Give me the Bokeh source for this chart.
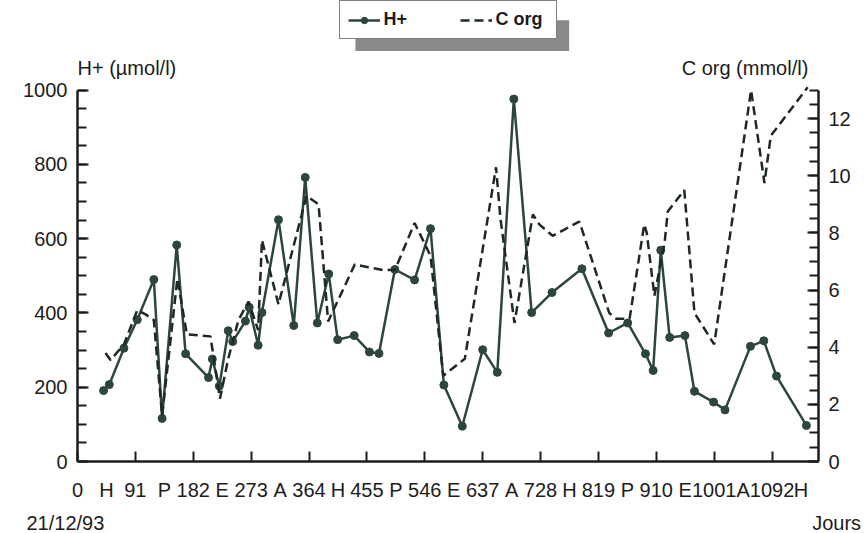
from bokeh.plotting import figure
from bokeh.models import (Range1d, LinearAxis, FixedTicker, SingleIntervalTicker,
                          Legend, LegendItem, Label, BoxAnnotation, ColumnDataSource)
from bokeh.embed import file_html
from bokeh.resources import INLINE

# ---- data (days since 21/12/93) ----
h_days = [41, 50, 73, 94, 120, 133, 156, 170, 206, 212, 223, 237, 244, 264, 270,
          284, 290, 316, 340, 358, 377, 395, 409, 435, 459, 474, 499, 530, 555,
          576, 605, 637, 660, 686, 714, 746, 793, 835, 865, 893, 905, 917, 931,
          955, 970, 1000, 1018, 1058, 1079, 1099, 1146]
h_values = [191, 207, 305, 382, 490, 116, 583, 290, 226, 276, 203, 352, 323, 378, 415,
            313, 401, 651, 366, 765, 373, 505, 328, 339, 295, 291, 517, 489, 627,
            206, 95, 301, 240, 976, 401, 455, 519, 346, 373, 290, 245, 569, 334,
            339, 189, 160, 139, 310, 325, 230, 97]

c_days = [44, 52, 73, 94, 107, 120, 133, 157, 172, 209, 224, 237, 253, 269, 284,
          290, 316, 352, 360, 379, 394, 436, 457, 481, 499, 530, 555, 575, 609,
          658, 665, 687, 716, 726, 747, 789, 836, 847, 868, 891, 895, 907, 923,
          928, 954, 970, 1001, 1059, 1080, 1090, 1148]
c_values = [3.8, 3.55, 4.1, 5.3, 5.15, 4.95, 1.6, 6.4, 4.45, 4.38, 2.2, 3.6, 4.95, 5.6, 4.6,
            7.75, 5.5, 8.6, 9.3, 9.0, 4.9, 6.9, 6.8, 6.7, 6.7, 8.35, 7.2, 3.0, 3.6,
            10.3, 8.5, 4.85, 8.65, 8.3, 7.9, 8.4, 5.2, 5.0, 5.0, 8.3, 8.0, 5.8, 7.65,
            8.75, 9.5, 5.2, 4.1, 13.0, 9.75, 11.4, 13.1]

x_tick_values = [0, 45.5, 91, 136.5, 182, 227.5, 273, 318.5, 364, 409.5, 455, 500.5,
                 546, 591.5, 637, 682.5, 728, 773.5, 819, 864.5, 910, 955.5, 1001,
                 1046.5, 1092, 1137.5]
x_tick_labels = ["0", "H", "91", "P", "182", "E", "273", "A", "364", "H", "455", "P",
                 "546", "E", "637", "A", "728", "H", "819", "P", "910", "E", "1001",
                 "A", "1092", "H"]
x_minor_ticks = [0, 91, 182, 273, 364, 455, 546, 637, 728, 819, 910, 1001, 1092]

series_names = ["H+", "C org"]
left_title = "H+ (µmol/l)"
right_title = "C org (mmol/l)"
start_label = "21/12/93"
unit_label = "Jours"

FONT = "Liberation Sans"
INK = "#1c1c1c"
SOLID = "#2c463c"
DASH = "#1e2824"

X_END = 1165            # day at the right axis
PX_PER_DAY = 741 / X_END

p = figure(width=859, height=503, output_backend="svg", toolbar_location=None,
           x_range=Range1d(0, X_END), y_range=Range1d(0, 1241.3),
           min_border_left=77, min_border_right=41, min_border_top=0,
           min_border_bottom=40, background_fill_color="white",
           border_fill_color="white")
p.extra_y_ranges = {"corg": Range1d(0, 16.137)}
p.outline_line_color = None
p.grid.visible = False

# left axis
ya = p.yaxis[0]
ya.ticker = SingleIntervalTicker(interval=200, num_minor_ticks=4)
ya.bounds = (0, 1000)

# right axis
ra = LinearAxis(y_range_name="corg",
                ticker=SingleIntervalTicker(interval=2, num_minor_ticks=4),
                bounds=(0, 13))
p.add_layout(ra, "right")

for ax in (ya, ra):
    ax.axis_line_width = 2.5
    ax.axis_line_color = INK
    ax.major_tick_in = 11
    ax.major_tick_out = 0
    ax.minor_tick_in = 9
    ax.minor_tick_out = 0
    ax.major_tick_line_width = 2
    ax.minor_tick_line_width = 2
    ax.major_tick_line_color = INK
    ax.minor_tick_line_color = INK
    ax.major_label_standoff = 10
    ax.major_label_text_font = FONT
    ax.major_label_text_font_size = "20px"
    ax.major_label_text_color = INK

# bottom axis
xa = p.xaxis[0]
xa.ticker = FixedTicker(ticks=x_tick_values, minor_ticks=x_minor_ticks)
xa.major_label_overrides = {v: t for v, t in zip(x_tick_values, x_tick_labels)}
xa.axis_line_width = 2.5
xa.axis_line_color = INK
xa.major_tick_line_color = None
xa.minor_tick_in = 10
xa.minor_tick_out = 0
xa.minor_tick_line_width = 2
xa.minor_tick_line_color = INK
xa.major_label_standoff = 11
xa.major_label_text_font = FONT
xa.major_label_text_font_size = "20px"
xa.major_label_text_color = INK

# series
r_line = p.line(h_days, h_values, line_color=SOLID, line_width=2.5)
r_pts = p.scatter(h_days, h_values, size=8, marker="circle",
                  fill_color=SOLID, line_color=SOLID)
r_dash = p.line(c_days, c_values, y_range_name="corg", line_color=DASH,
                line_width=2.5, line_dash="9 5")

# axis titles
p.add_layout(Label(x=0, y=1059, text=left_title, text_align="left",
                   text_baseline="middle", text_font=FONT,
                   text_font_size="20px", text_color=INK))
p.add_layout(Label(x=1149, y=1059, text=right_title, text_align="right",
                   text_baseline="middle", text_font=FONT,
                   text_font_size="20px", text_color=INK))

# legend shadow + legend
p.add_layout(BoxAnnotation(left=437, right=773, top=1188, bottom=1105,
                           fill_color="#8a8a8a", fill_alpha=1, line_color=None))
legend = Legend(items=[LegendItem(label=series_names[0], renderers=[r_line, r_pts]),
                       LegendItem(label=series_names[1], renderers=[r_dash])],
                location="top_center", orientation="horizontal", margin=0,
                padding=8, spacing=24, label_width=52, glyph_width=32,
                glyph_height=16, label_standoff=4, label_height=16,
                border_line_color="black", border_line_width=1.5,
                background_fill_color="white", background_fill_alpha=1,
                label_text_font=FONT, label_text_font_style="bold",
                label_text_font_size="18px", label_text_color=INK)
p.add_layout(legend)

# bottom row: start date and unit, on the same day scale as the chart
W2 = 867
p2 = figure(width=W2, height=30, output_backend="svg", toolbar_location=None,
            x_range=Range1d(-77 / PX_PER_DAY, (W2 - 77) / PX_PER_DAY),
            y_range=Range1d(0, 30), min_border=0, x_axis_type=None,
            y_axis_type=None, background_fill_color="white",
            border_fill_color="white")
p2.outline_line_color = None
p2.grid.visible = False
src = ColumnDataSource(dict(x=[-19, 1232], y=[11, 11], t=[start_label, unit_label],
                            a=["center", "right"]))
p2.text(x="x", y="y", text="t", text_align="a", text_baseline="middle",
        text_font={"value": FONT}, text_font_size="20px", text_color=INK, source=src)

open("out.html", "w").write(file_html([p, p2], INLINE))
